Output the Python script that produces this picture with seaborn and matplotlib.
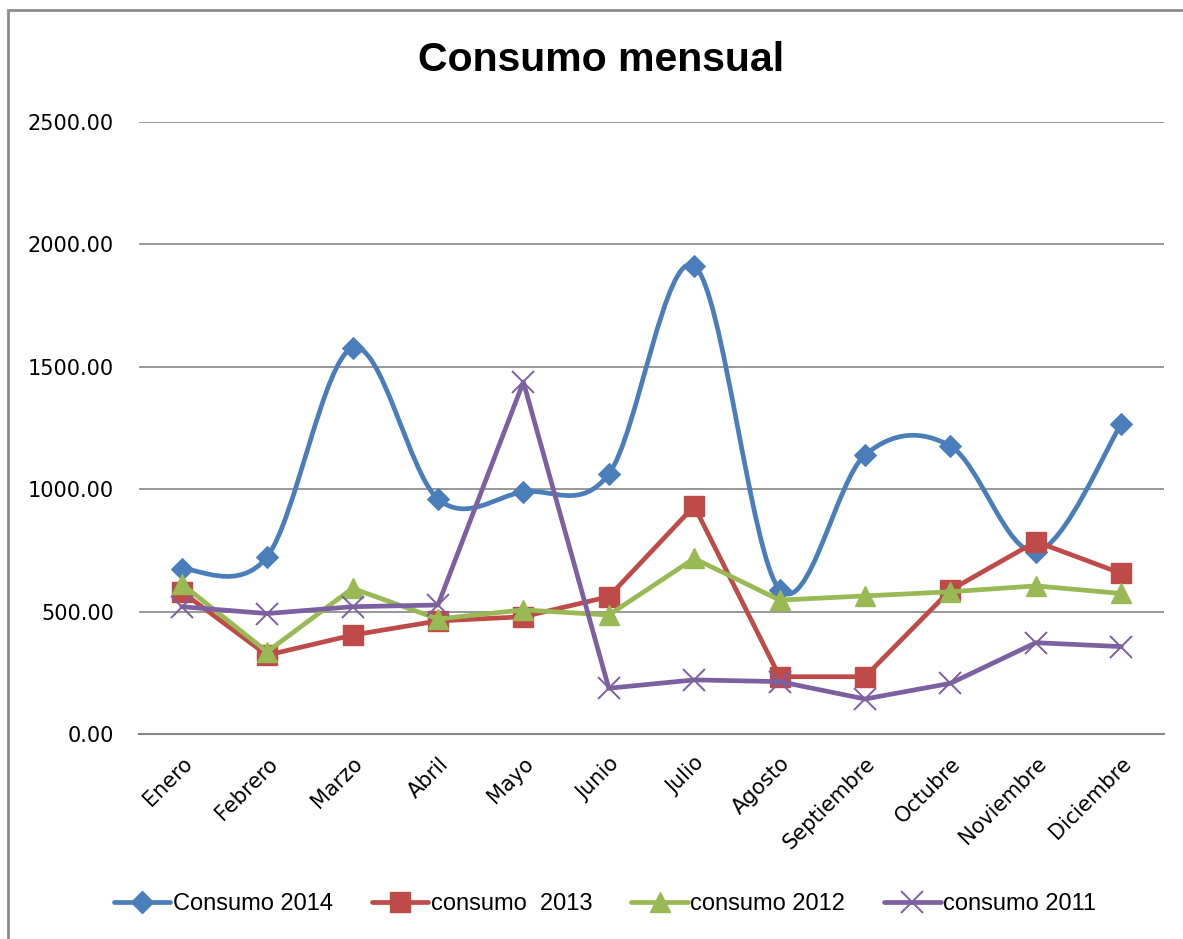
import matplotlib.pyplot as plt
import numpy as np
import pandas as pd
import seaborn as sns
from matplotlib.lines import Line2D
from matplotlib.path import Path
from matplotlib.patches import PathPatch, Rectangle

# --------------------------------------------------------------
# Data
# --------------------------------------------------------------
meses = ["Enero", "Febrero", "Marzo", "Abril", "Mayo", "Junio", "Julio",
         "Agosto", "Septiembre", "Octubre", "Noviembre", "Diciembre"]

consumo_2014 = [674, 724, 1577, 960, 989, 1062, 1912, 590, 1140, 1176, 745, 1266]
consumo_2013 = [581, 322, 404, 462, 479, 561, 931, 234, 234, 588, 786, 656]
consumo_2012 = [613, 336, 595, 470, 507, 486, 717, 547, 564, 581, 605, 574]
consumo_2011 = [520, 492, 520, 527, 1438, 187, 221, 214, 143, 207, 373, 357]

y_ticks = [0, 500, 1000, 1500, 2000, 2500]

# --------------------------------------------------------------
# Styling
# --------------------------------------------------------------
BLUE = "#4a7ebb"
RED = "#be4b48"
GREEN = "#98b954"
PURPLE = "#7d60a0"
GRID = "#868686"

sns.set_style("white")
plt.rcParams["font.family"] = "DejaVu Sans"
plt.rcParams["text.color"] = "black"
plt.rcParams["xtick.color"] = "black"
plt.rcParams["ytick.color"] = "black"

fig = plt.figure(figsize=(11.83, 9.39), dpi=100)
ax = fig.add_axes([139 / 1183, 1 - 734 / 939, (1164 - 139) / 1183, (734 - 122) / 939])

x = np.arange(len(meses))

# --------------------------------------------------------------
# Consumo 2014: smoothed line (Excel-style bezier through the points)
# --------------------------------------------------------------
pts = np.column_stack([x, consumo_2014]).astype(float)
verts = [pts[0]]
codes = [Path.MOVETO]
n = len(pts)
for i in range(n - 1):
    p0 = pts[i - 1] if i > 0 else pts[i]
    p1 = pts[i]
    p2 = pts[i + 1]
    p3 = pts[i + 2] if i + 2 < n else pts[i + 1]
    c1 = p1 + (p2 - p0) / 6
    c2 = p2 - (p3 - p1) / 6
    verts += [c1, c2, p2]
    codes += [Path.CURVE4] * 3
ax.add_patch(PathPatch(Path(verts, codes), facecolor="none", edgecolor=BLUE,
                       lw=3.4, capstyle="round", joinstyle="round", zorder=2))
sns.lineplot(x=x, y=consumo_2014, ax=ax, color=BLUE, linestyle="", marker="D",
             markersize=11.5, markeredgecolor=BLUE, zorder=3)

series = [
    (consumo_2013, RED, "s", 14, 1),
    (consumo_2012, GREEN, "^", 14.5, 1),
    (consumo_2011, PURPLE, "x", 16, 1.4),
]
for vals, color, marker, ms, mew in series:
    sns.lineplot(x=x, y=vals, ax=ax, color=color, lw=3.4, marker=marker,
                 markersize=ms, markeredgecolor=color, markeredgewidth=mew,
                 zorder=3)

# --------------------------------------------------------------
# Axes
# --------------------------------------------------------------
ax.set_xlim(-0.5, len(meses) - 0.5)
ax.set_ylim(0, 2500)
ax.set_yticks(y_ticks)
ax.set_yticklabels([f"{v:.2f}" for v in y_ticks], fontsize=15)
ax.set_xticks(x)
ax.set_xticklabels(meses, rotation=45, ha="right", rotation_mode="anchor",
                   fontsize=15)
ax.tick_params(axis="x", length=0, pad=14)
ax.tick_params(axis="y", length=0, pad=18)
ax.grid(axis="y", color=GRID, lw=1.2)
for side in ["left", "right", "top"]:
    ax.spines[side].set_visible(False)
ax.spines["bottom"].set_color(GRID)
ax.spines["bottom"].set_linewidth(1.5)
ax.set_axisbelow(True)

# --------------------------------------------------------------
# Title, legend, border
# --------------------------------------------------------------
fig.text(601 / 1183, 1 - 60 / 939, "Consumo mensual", fontsize=29.5,
         fontweight="bold", family="Liberation Sans", ha="center", va="center")

handles = [
    Line2D([], [], color=BLUE, lw=3.4, marker="D", markersize=11.5),
    Line2D([], [], color=RED, lw=3.4, marker="s", markersize=14),
    Line2D([], [], color=GREEN, lw=3.4, marker="^", markersize=14.5),
    Line2D([], [], color=PURPLE, lw=3.4, marker="x", markersize=16, markeredgewidth=1.4),
]
labels = ["Consumo 2014", "consumo  2013", "consumo 2012", "consumo 2011"]
fig.legend(handles, labels, loc="center", bbox_to_anchor=(605 / 1183, 1 - 904 / 939),
           ncol=4, frameon=False, handlelength=2.4, handletextpad=0.1,
           columnspacing=1.65, prop={"family": "Liberation Sans", "size": 17})

fig.add_artist(Rectangle((8 / 1183, -0.05), 1.1, 1 - 10 / 939 + 0.05,
                         transform=fig.transFigure, fill=False,
                         edgecolor="#8c8c8c", lw=2))

fig.savefig("out.png", dpi=100)
